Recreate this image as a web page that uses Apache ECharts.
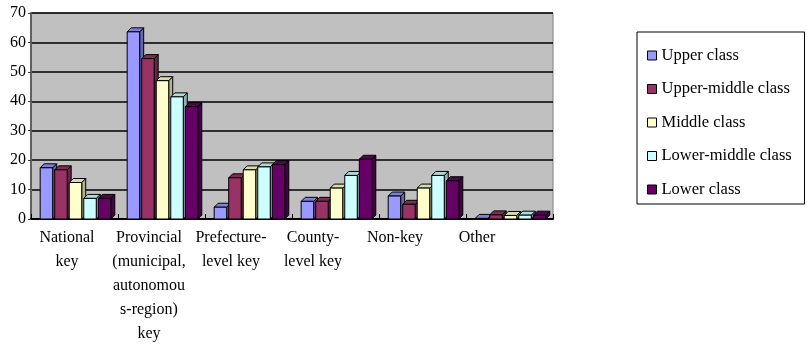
<!DOCTYPE html>
<html>
<head>
<meta charset="utf-8">
<script src="https://cdn.jsdelivr.net/npm/echarts@6/dist/echarts.min.js"></script>
<style>
  html, body { margin: 0; padding: 0; background: #fff; }
  #chart { width: 807px; height: 352px; }
</style>
</head>
<body>
<div id="chart"></div>
<script>
// School categories along the x axis
const categories = [
  'National\nkey',
  'Provincial\n(municipal,\nautonomou\ns-region)\nkey',
  'Prefecture-\nlevel key',
  'County-\nlevel key',
  'Non-key',
  'Other'
];

// Share (%) of each social class by school category
const seriesNames = ['Upper class', 'Upper-middle class', 'Middle class', 'Lower-middle class', 'Lower class'];
const upperClass       = [17.4, 63.6, 4.0, 6.0, 7.8, 0.2];
const upperMiddleClass = [16.7, 54.5, 14.0, 6.0, 5.0, 1.4];
const middleClass      = [12.4, 47.0, 16.7, 10.5, 10.5, 1.2];
const lowerMiddleClass = [7.0, 41.5, 17.7, 14.8, 14.8, 1.3];
const lowerClass       = [7.0, 38.2, 18.5, 20.3, 13.0, 1.3];

// Y axis ticks
const yTicks = [0, 10, 20, 30, 40, 50, 60, 70];

const seriesValues = [upperClass, upperMiddleClass, middleClass, lowerMiddleClass, lowerClass];
const faceColors = ['#9999FF', '#993366', '#FFFFCC', '#CCFFFF', '#660066'];
const sideColors = ['#6666B3', '#6B2447', '#B3B38F', '#8FB3B3', '#470047'];
const topColors  = ['#8080D9', '#822B57', '#D9D9AD', '#ADD9D9', '#570057'];

const FONT = "'Liberation Serif', 'DejaVu Serif', serif";

// Clustered column with a small 3D side and top face
function columnRenderer(idx) {
  return function (params, api) {
    const cat = api.value(0);
    const v = api.value(1);
    const base = api.coord([cat, 0]);
    const top = api.coord([cat, v]);
    const catW = api.size([1, 0])[0];
    const pitch = catW * 0.167;
    const w = pitch * 0.86;
    const d = 4;
    const x0 = base[0] + (idx - 2.5) * pitch + 2;
    const yb = base[1];
    const yt = Math.min(top[1], yb - 0.5);
    const stroke = { stroke: '#000', lineWidth: 1 };
    return {
      type: 'group',
      children: [
        {
          type: 'polygon',
          shape: { points: [[x0 + w, yt], [x0 + w + d, yt - d], [x0 + w + d, yb - d], [x0 + w, yb]] },
          style: Object.assign({ fill: sideColors[idx] }, stroke)
        },
        {
          type: 'polygon',
          shape: { points: [[x0, yt], [x0 + d, yt - d], [x0 + w + d, yt - d], [x0 + w, yt]] },
          style: Object.assign({ fill: topColors[idx] }, stroke)
        },
        {
          type: 'rect',
          shape: { x: x0, y: yt, width: w, height: yb - yt },
          style: Object.assign({ fill: faceColors[idx] }, stroke)
        }
      ]
    };
  };
}

const chart = echarts.init(document.getElementById('chart'), null, { renderer: 'canvas' });

const series = seriesValues.map((vals, idx) => ({
  name: seriesNames[idx],
  type: 'custom',
  xAxisIndex: 0,
  yAxisIndex: 0,
  renderItem: columnRenderer(idx),
  itemStyle: { color: faceColors[idx] },
  encode: { x: 0, y: 1 },
  data: vals.map((v, i) => [i, v]),
  clip: false
}));

chart.setOption({
  animation: false,
  backgroundColor: '#fff',
  legend: {
    orient: 'vertical',
    left: 637,
    top: 32,
    padding: [15, 3, 6, 10],
    itemGap: 16.5,
    itemWidth: 9,
    itemHeight: 9,
    itemTextGap: 6,
    icon: 'rect',
    backgroundColor: '#fff',
    borderColor: '#000',
    borderWidth: 1,
    borderRadius: 0,
    textStyle: { fontFamily: FONT, fontSize: 16.5, color: '#000', lineHeight: 16, width: 140 },
    data: seriesNames.map((n, i) => ({
      name: n,
      itemStyle: { color: faceColors[i], borderColor: '#000', borderWidth: 1 }
    }))
  },
  grid: [
    {
      left: 31, right: 254, top: 13, bottom: 133,
      show: true, backgroundColor: '#C0C0C0', borderColor: '#808080', borderWidth: 1
    },
    { left: 26, width: 492, top: 13, bottom: 133, show: false }
  ],
  xAxis: [
    {
      gridIndex: 0,
      type: 'category',
      data: categories,
      axisLine: { show: true, lineStyle: { color: '#000', width: 2 } },
      axisTick: { show: true, inside: true, length: 5, lineStyle: { color: '#000' } },
      axisLabel: { show: false },
      splitLine: { show: false }
    },
    {
      gridIndex: 1,
      type: 'category',
      data: categories,
      axisLine: { show: false },
      axisTick: { show: false },
      axisLabel: {
        show: true, interval: 0, margin: 7,
        fontFamily: FONT, fontSize: 16, color: '#000', lineHeight: 24, align: 'center'
      }
    }
  ],
  yAxis: [
    {
      gridIndex: 0,
      type: 'value',
      min: yTicks[0],
      max: yTicks[yTicks.length - 1],
      interval: 10,
      axisLine: { show: true, lineStyle: { color: '#606060', width: 2 } },
      axisTick: { show: true, length: 3, lineStyle: { color: '#404040' } },
      axisLabel: { fontFamily: FONT, fontSize: 16, color: '#000', margin: 5 },
      splitLine: { show: true, lineStyle: { color: '#000', width: 1.5 } }
    },
    { gridIndex: 1, type: 'value', min: 0, max: 70, show: false }
  ],
  series: series
});
</script>
</body>
</html>
